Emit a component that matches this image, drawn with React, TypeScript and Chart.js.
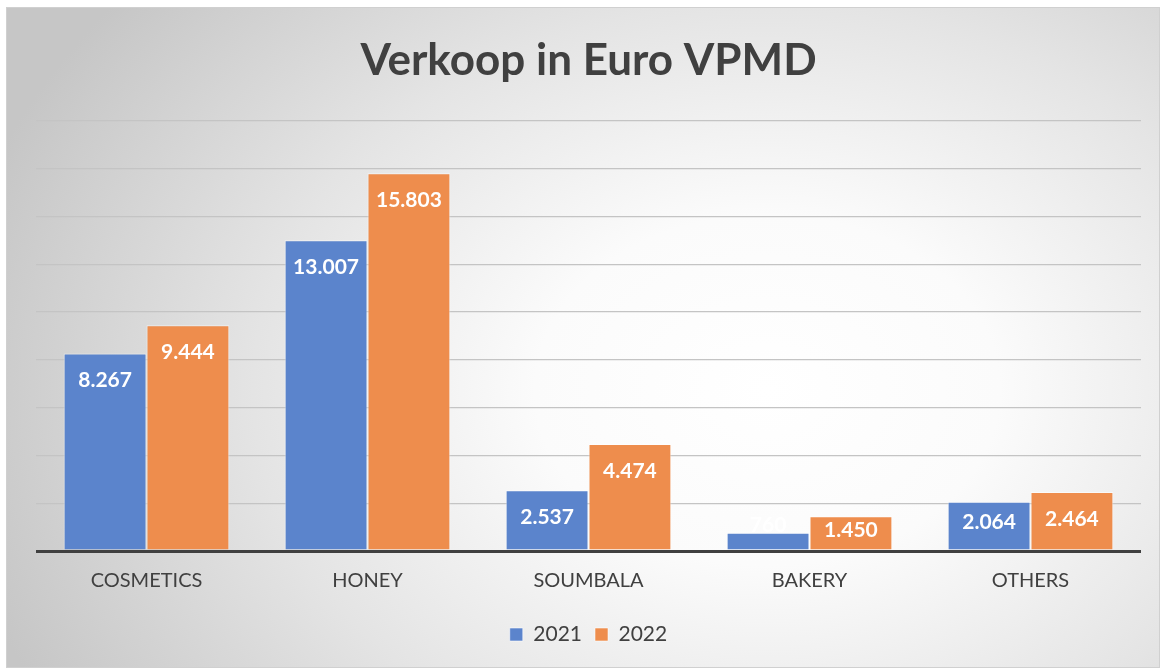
import React, { useEffect, useRef } from "react";
import { Chart, registerables } from "chart.js";

Chart.register(...registerables);

const categories = ["COSMETICS", "HONEY", "SOUMBALA", "BAKERY", "OTHERS"];
const values2021 = [8267, 13007, 2537, 760, 2064];
const values2022 = [9444, 15803, 4474, 1450, 2464];
const labels2021 = ["8.267", "13.007", "2.537", "760", "2.064"];
const labels2022 = ["9.444", "15.803", "4.474", "1.450", "2.464"];
const seriesNames = ["2021", "2022"];
const titleText = "Verkoop in Euro VPMD";

const FONT = "Lato, 'Open Sans', sans-serif";

const labelPlugin = {
  id: "barLabels",
  afterDatasetsDraw(chart: any) {
    const ctx = chart.ctx;
    const allLabels = [labels2021, labels2022];
    ctx.save();
    ctx.font = `bold 21px ${FONT}`;
    ctx.fillStyle = "#ffffff";
    ctx.textAlign = "center";
    ctx.textBaseline = "middle";
    chart.data.datasets.forEach((ds: any, di: number) => {
      const meta = chart.getDatasetMeta(di);
      meta.data.forEach((bar: any, i: number) => {
        const h = bar.base - bar.y;
        let cy: number;
        if (h >= 55) cy = bar.y + 27;
        else if (h >= 26) cy = bar.y + h / 2 - 3;
        else cy = bar.y - 8;
        ctx.fillText(allLabels[di][i], bar.x, cy);
      });
    });
    ctx.restore();
  },
};

export default function App() {
  const ref = useRef<HTMLCanvasElement>(null);
  useEffect(() => {
    if (!ref.current) return;
    const chart = new Chart(ref.current, {
      type: "bar",
      data: {
        labels: categories,
        datasets: [
          {
            label: seriesNames[0],
            data: values2021,
            backgroundColor: "#5b84cc",
            borderColor: "rgba(255,255,255,0.55)",
            borderWidth: 1,
            categoryPercentage: 0.75,
            barPercentage: 1.0,
          },
          {
            label: seriesNames[1],
            data: values2022,
            backgroundColor: "#ee8d4d",
            borderColor: "rgba(255,255,255,0.55)",
            borderWidth: 1,
            categoryPercentage: 0.75,
            barPercentage: 1.0,
          },
        ],
      },
      options: {
        animation: false,
        responsive: false,
        maintainAspectRatio: false,
        layout: { padding: { left: 36, right: 26, top: 7, bottom: 15 } },
        plugins: {
          title: {
            display: true,
            text: titleText,
            color: "#404040",
            font: { family: FONT, size: 44, weight: "bold", lineHeight: 1.2 },
            padding: { top: 27, bottom: 34 },
          },
          legend: {
            display: true,
            position: "bottom",
            labels: {
              color: "#404040",
              font: { family: FONT, size: 21 },
              boxWidth: 13,
              boxHeight: 13,
              padding: 13,
            },
          },
          tooltip: { enabled: false },
        },
        scales: {
          x: {
            grid: { display: false, drawTicks: false },
            border: { display: false },
            ticks: {
              color: "#404040",
              font: { family: FONT, size: 20 },
              padding: 18,
              maxRotation: 0,
            },
          },
          y: {
            min: 0,
            max: 18000,
            ticks: { display: false, stepSize: 2000 },
            border: { display: false },
            grid: {
              drawTicks: false,
              color: (c: any) => (c.tick && c.tick.value === 0 ? "#404040" : "#c4c4c4"),
              lineWidth: (c: any) => (c.tick && c.tick.value === 0 ? 3 : 1.2),
            },
          },
        },
      },
      plugins: [labelPlugin],
    });
    return () => chart.destroy();
  }, []);

  return (
    <div style={{ position: "fixed", left: 0, top: 0, width: 1167, height: 670, background: "#ffffff" }}>
      <div
        style={{
          position: "absolute",
          left: 6,
          top: 7,
          width: 1154,
          height: 661,
          boxSizing: "border-box",
          border: "1px solid #d0d0d0",
          background:
            "radial-gradient(ellipse 72% 95% at 66% 58%, #ffffff 0%, #fbfbfb 28%, #e4e4e4 62%, #c6c6c6 100%)",
        }}
      />
      <canvas
        ref={ref}
        width={1167}
        height={670}
        style={{ position: "absolute", left: 0, top: 0, width: 1167, height: 670 }}
      />
    </div>
  );
}
